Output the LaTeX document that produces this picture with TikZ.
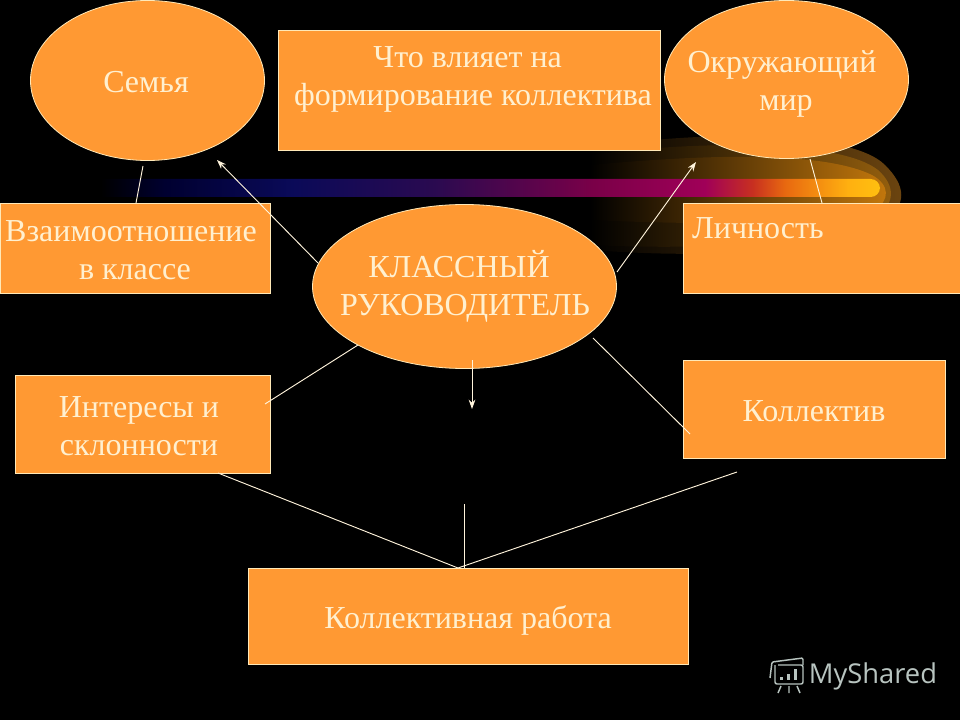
\documentclass[tikz,border=0pt]{standalone}
\usepackage{fontspec}
\setmainfont{Liberation Serif}
\newfontfamily\logofont{Open Sans}
\usetikzlibrary{arrows.meta,shapes.geometric}
\definecolor{box}{HTML}{FF9933}
\definecolor{edge}{HTML}{FFE9B8}
\definecolor{linkc}{HTML}{FFF4DC}
\definecolor{txt}{HTML}{FFF0D0}
\definecolor{logo}{HTML}{B8C4C0}
\definecolor{glowa}{HTML}{6E4610}
\definecolor{glowb}{HTML}{96600E}
\definecolor{glowc}{HTML}{C4780C}
\definecolor{bara}{HTML}{000030}
\definecolor{barb}{HTML}{0A0A58}
\definecolor{barc}{HTML}{2A0A50}
\definecolor{bard}{HTML}{7A0048}
\definecolor{bare}{HTML}{A00058}
\definecolor{barf}{HTML}{C83020}
\definecolor{barg}{HTML}{E86810}
\definecolor{barh}{HTML}{FFB010}
\definecolor{bari}{HTML}{FFC010}
\pgfdeclarehorizontalshading{barshade}{100bp}{
 color(0bp)=(black); color(26bp)=(black); color(30bp)=(bara); color(38bp)=(barb);
 color(47bp)=(barc); color(57bp)=(bard); color(64bp)=(bare); color(67bp)=(barf);
 color(69bp)=(barg); color(73bp)=(barh); color(75bp)=(bari); color(100bp)=(bari)}
\tikzset{
 boxnode/.style={draw=edge,line width=0.6pt,fill=box,text=txt,inner sep=0pt,font=\fontsize{24}{28.5}\selectfont,align=center,minimum width=#1*0.75pt},
 ovalnode/.style={draw=edge,line width=0.6pt,fill=box,text=txt,ellipse,inner sep=0pt,font=\fontsize{24}{28.5}\selectfont,align=center},
 textlabel/.style={text=txt,font=\fontsize{24}{28.5}\selectfont,align=center,inner sep=0pt},
 link/.style={draw=linkc,line width=0.7pt},
 arrowlink/.style={link,-{Stealth[length=7pt,width=5pt]}},
 logoline/.style={draw=logo,line width=1.1pt}
}
\begin{document}
\begin{tikzpicture}[x=0.75pt,y=-0.75pt]
\useasboundingbox (0,0) rectangle (960,720);
\fill[black] (0,0) rectangle (960,720);
% glow behind the bar
\shade[left color=black,right color=glowa]
 (590,148) .. controls (700,130) and (850,130) .. (885,165) .. controls (905,185) and (910,205) .. (880,225) .. controls (800,255) and (700,258) .. (590,250) -- cycle;
\shade[left color=black,right color=glowb]
 (590,155) .. controls (700,140) and (840,140) .. (878,170) .. controls (895,185) and (898,205) .. (870,222) .. controls (800,245) and (700,250) .. (590,245) -- cycle;
\shade[left color=black,right color=glowc]
 (590,165) .. controls (700,155) and (820,150) .. (872,175) .. controls (890,185) and (890,200) .. (875,210) .. controls (800,225) and (700,225) .. (590,220) -- cycle;
% bar
\path[shading=barshade,rounded corners=7pt] (85,179) rectangle (880,197);
% shapes
\node[ovalnode,minimum width=234*0.75pt,minimum height=160*0.75pt] (family) at (147.5,80.5) {};
\node[ovalnode,minimum width=244*0.75pt,minimum height=158*0.75pt] (world) at (786.5,79.5) {};
\node[ovalnode,minimum width=304*0.75pt,minimum height=164*0.75pt] (teacher) at (464.5,286.5) {};
\node[boxnode=382,minimum height=120*0.75pt] (title) at (469.5,90.5) {};
\node[boxnode=270,minimum height=90*0.75pt] (relations) at (135.5,248) {};
\node[boxnode=277,minimum height=90*0.75pt] (person) at (821.5,248) {};
\node[boxnode=255,minimum height=98*0.75pt] (interests) at (143,424.5) {};
\node[boxnode=262,minimum height=98*0.75pt] (collective) at (814.5,409) {};
\node[boxnode=440,minimum height=96*0.75pt] (work) at (468.5,616.5) {};
% texts
\node[textlabel] (t1) at (146,82) {Семья};
\node[textlabel] (t2) at (782,84) {Окружающий\\\hspace*{6pt}мир};
\node[textlabel] (t3) at (465,286.5) {КЛАССНЫЙ\hspace*{9pt}\\РУКОВОДИТЕЛЬ};
\node[textlabel] (t4) at (473,79) {Что влияет на\hspace*{8pt}\\формирование коллектива};
\node[textlabel] (t5) at (131,250) {Взаимоотношение\\\hspace*{6pt}в классе};
\node[textlabel] (t6) at (758,228) {Личность};
\node[textlabel] (t7) at (139,426) {Интересы и\\склонности};
\node[textlabel] (t8) at (814,411) {Коллектив};
\node[textlabel] (t9) at (468,620) {Коллективная работа};
% connectors
\coordinate (famtop) at (143,166);
\coordinate (relend) at (136,203);
\coordinate (a1s) at (318,263);
\coordinate (a1e) at (217,160);
\coordinate (a2s) at (617,272);
\coordinate (a2e) at (696,162);
\coordinate (wb) at (810,159);
\coordinate (pt) at (822,203);
\coordinate (c1) at (358,345);
\coordinate (c2) at (265,404);
\coordinate (d1) at (472,360);
\coordinate (d2) at (472,409);
\coordinate (c3) at (593,338);
\coordinate (c4) at (690,434);
\coordinate (j) at (458,568);
\coordinate (i1) at (218,473);
\coordinate (m1) at (464,504);
\coordinate (m2) at (464,568);
\coordinate (k1) at (737,472);
\draw[link] (famtop) -- (relend);
\draw[arrowlink] (a1s) -- (a1e);
\draw[arrowlink] (a2s) -- (a2e);
\draw[link] (wb) -- (pt);
\draw[link] (c1) -- (c2);
\draw[arrowlink] (d1) -- (d2);
\draw[link] (c3) -- (c4);
\draw[link] (i1) -- (j);
\draw[link] (m1) -- (m2);
\draw[link] (k1) -- (j);
% logo
\draw[logoline,rounded corners=1.5pt] (778,665) -- (803,665) -- (803,684) -- (775,684) -- (775,665);
\draw[logoline,rounded corners=1pt] (770,678) -- (772,662) -- (803,658) -- (803,665);
\fill[logo] (780,677) rectangle (783,680);
\fill[logo] (787,674) rectangle (790,680);
\fill[logo] (794,669) rectangle (797,680);
\draw[logoline] (781,686) -- (778,693) (789,686) -- (789,693) (797,686) -- (800,693);
\node[text=logo,font=\logofont\fontsize{20.5}{24}\selectfont,inner sep=0pt] (brand) at (873,676) {MyShared};
\end{tikzpicture}
\end{document}
